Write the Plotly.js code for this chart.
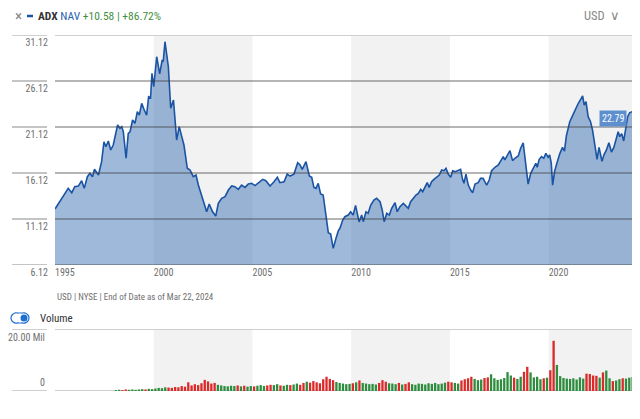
<!DOCTYPE html>
<html>
<head>
<meta charset="utf-8">
<script src="https://cdn.plot.ly/plotly-3.0.1.min.js"></script>
<style>html,body{margin:0;padding:0;background:#fff;}#chart{width:640px;height:419px;}</style>
</head>
<body>
<div id="chart"></div>
<script>
// ---- data ----
const navYears = [1995.0,1995.25,1995.5,1995.67,1995.85,1996.0,1996.18,1996.35,1996.48,1996.64,1996.77,1996.9,1997.0,1997.1,1997.2,1997.36,1997.48,1997.58,1997.7,1997.82,1997.95,1998.17,1998.29,1998.38,1998.46,1998.6,1998.71,1998.8,1998.93,1999.05,1999.17,1999.27,1999.39,1999.52,1999.64,1999.74,1999.84,1999.91,2000.0,2000.15,2000.3,2000.43,2000.48,2000.57,2000.74,2000.86,2001.0,2001.16,2001.29,2001.42,2001.53,2001.7,2001.84,2002.0,2002.14,2002.26,2002.43,2002.56,2002.68,2002.81,2002.98,2003.14,2003.27,2003.44,2003.61,2003.78,2003.95,2004.11,2004.28,2004.45,2004.62,2004.79,2004.96,2005.13,2005.29,2005.52,2005.68,2005.89,2006.09,2006.26,2006.39,2006.6,2006.76,2006.9,2007.1,2007.29,2007.41,2007.52,2007.71,2007.88,2008.0,2008.11,2008.22,2008.33,2008.45,2008.58,2008.72,2008.84,2008.96,2009.09,2009.23,2009.35,2009.43,2009.57,2009.68,2009.85,2009.97,2010.1,2010.22,2010.3,2010.4,2010.53,2010.61,2010.75,2010.86,2010.99,2011.15,2011.29,2011.46,2011.57,2011.67,2011.8,2011.93,2012.05,2012.22,2012.33,2012.47,2012.64,2012.77,2012.89,2013.01,2013.14,2013.28,2013.4,2013.52,2013.62,2013.73,2013.85,2013.95,2014.07,2014.19,2014.32,2014.46,2014.58,2014.7,2014.8,2014.91,2015.04,2015.14,2015.27,2015.42,2015.54,2015.64,2015.71,2015.81,2015.93,2016.05,2016.15,2016.27,2016.43,2016.55,2016.68,2016.86,2016.99,2017.11,2017.28,2017.45,2017.57,2017.7,2017.78,2017.9,2018.04,2018.17,2018.29,2018.46,2018.58,2018.71,2018.85,2018.96,2019.09,2019.22,2019.35,2019.42,2019.52,2019.64,2019.75,2019.86,2019.97,2020.05,2020.13,2020.2,2020.3,2020.42,2020.56,2020.7,2020.8,2020.9,2021.0,2021.07,2021.2,2021.33,2021.5,2021.62,2021.72,2021.8,2021.89,2022.0,2022.12,2022.22,2022.32,2022.45,2022.55,2022.7,2022.8,2022.92,2023.05,2023.18,2023.3,2023.45,2023.52,2023.6,2023.7,2023.8,2023.88,2023.95,2024.0,2024.1,2024.22];
const navValues = [12.2,13.0,13.9,14.45,13.98,14.63,14.7,15.28,14.45,15.72,16.09,15.72,16.52,16.26,15.9,17.35,19.52,18.98,19.6,18.62,19.16,21.34,20.98,21.16,20.6,17.72,20.43,20.6,21.88,21.52,22.78,22.42,23.69,22.97,22.42,24.41,24.3,26.96,25.5,28.76,26.9,28.4,28.22,30.39,27.67,23.15,24.05,19.7,21.16,20.07,19.16,16.63,16.45,15.72,15.9,14.81,13.73,12.82,11.91,12.75,11.91,11.44,12.82,13.37,13.55,14.27,14.71,14.63,14.35,14.81,14.56,14.92,15.0,14.75,15.0,15.43,15.28,14.71,15.17,15.65,15.07,15.17,16.0,15.79,16.0,17.24,16.99,16.52,17.35,15.79,15.65,14.56,14.45,15.0,13.84,13.73,11.55,9.63,9.49,7.93,9.02,9.85,10.11,11.01,11.37,11.55,11.91,11.55,12.6,11.91,10.8,11.55,10.83,11.91,11.74,12.64,13.18,13.37,13.0,12.1,10.83,11.74,11.55,12.28,12.89,11.91,12.46,12.82,12.53,12.28,13.0,13.37,13.73,13.91,14.35,14.09,14.63,15.07,14.56,15.17,15.43,15.65,15.9,16.45,16.37,16.63,16.0,15.65,16.37,16.26,16.45,16.52,15.43,15.0,16.0,14.81,14.27,13.98,14.92,15.07,15.54,15.54,14.81,15.36,16.37,16.74,16.99,17.46,17.9,17.54,18.08,18.55,17.46,17.72,17.97,18.8,19.41,16.81,14.92,16.09,16.63,17.17,16.74,17.61,17.9,17.72,18.26,17.83,18.08,17.2,14.8,16.3,17.2,18.2,18.9,18.5,20.2,21.3,21.7,22.3,23.0,23.7,24.13,24.49,23.5,23.87,22.24,21.7,20.8,19.6,17.6,18.9,17.4,18.1,18.6,19.4,18.4,18.9,20.0,20.6,20.07,20.4,19.6,20.8,21.5,22.24,22.67,22.79];

// volume (millions), one bar every two months starting Jan 1998
const volStartYear = 1998;
const volPerYear = 6;
const volumeMil = [
0.3,0.4,0.3,0.5,0.4,0.5,
0.4,0.5,0.6,0.5,0.7,0.6,
0.8,1.0,0.9,1.2,1.1,1.0,
1.3,1.2,1.6,1.4,2.8,1.8,
2.2,1.9,2.5,3.6,3.1,2.4,
2.6,2.0,1.8,1.6,1.5,1.7,
1.6,1.8,1.5,1.7,1.4,1.6,
1.5,1.7,1.9,1.6,1.8,2.0,
1.9,2.2,1.8,1.7,2.0,1.9,
2.1,2.4,2.0,2.6,3.0,2.7,
3.2,2.8,2.5,3.8,4.6,3.9,
3.5,2.9,2.6,2.4,2.2,2.3,
2.5,2.8,3.4,2.6,2.4,2.2,
2.3,2.1,2.6,3.5,3.0,2.5,
2.4,2.2,2.6,2.1,2.3,2.8,
2.2,2.0,2.4,2.3,2.1,2.5,
2.3,2.6,2.2,2.4,2.7,3.0,
2.8,2.6,2.4,3.4,3.8,4.1,
4.6,3.9,3.5,3.7,4.2,4.4,
5.4,4.1,3.6,3.8,4.2,6.1,
5.0,4.3,3.9,4.6,6.2,7.8,
6.0,4.4,4.6,3.8,4.1,4.3,
6.7,16.2,8.4,4.8,4.2,4.0,
3.9,4.1,3.7,4.4,4.0,5.6,
5.5,5.0,4.9,4.3,6.0,6.6,
4.1,3.2,3.4,3.8,4.1,4.0,
4.3,4.5];

const yTicks = [6.12,11.12,16.12,21.12,26.12,31.12];
const yTickText = ['6.12','11.12','16.12','21.12','26.12','31.12'];
const xTicks = [1995,2000,2005,2010,2015,2020];
const xTickText = ['1995','2000','2005','2010','2015','2020'];
const bands = [[2000,2005],[2010,2015],[2020,2024.22]];
const lastLabel = '22.79';

// ---- helpers ----
function navAt(t){
  if(t<=navYears[0]) return navValues[0];
  for(let i=1;i<navYears.length;i++){
    if(t<=navYears[i]){
      const f=(t-navYears[i-1])/(navYears[i]-navYears[i-1]);
      return navValues[i-1]+f*(navValues[i]-navValues[i-1]);
    }
  }
  return navValues[navValues.length-1];
}
const volX = volumeMil.map((v,i)=>volStartYear+(i+0.5)/volPerYear);
const volColors = volX.map(t=>navAt(t)>=navAt(t-1/volPerYear)?'rgb(46,140,62)':'rgb(218,42,42)');

const FONT = 'Liberation Sans Narrow, Roboto Condensed, Roboto, Arial Narrow, sans-serif';
const W=640,H=419,L=55,R=632,T=35,B=391;
const PX=p=>(p-L)/(R-L);
const PY=p=>(B-p)/(B-T);
const priceDom=[PY(265),1];
const volDom=[0,PY(329)];

const traces=[
 {type:'scatter',mode:'lines',x:navYears,y:navValues,xaxis:'x',yaxis:'y',
  line:{color:'#1b54a4',width:1.6},fill:'tozeroy',fillcolor:'rgba(40,100,170,0.45)',hoverinfo:'skip'},
 {type:'bar',x:volX,y:volumeMil,xaxis:'x2',yaxis:'y2',width:0.7/volPerYear,
  marker:{color:volColors,line:{width:0}},hoverinfo:'skip'}
];

const shapes=[];
bands.forEach(b=>{
  shapes.push({type:'rect',xref:'x',yref:'y domain',x0:b[0],x1:b[1],y0:0,y1:1,fillcolor:'#f2f2f2',line:{width:0},layer:'below'});
  shapes.push({type:'rect',xref:'x2',yref:'y2 domain',x0:b[0],x1:b[1],y0:0,y1:1,fillcolor:'#f2f2f2',line:{width:0},layer:'below'});
});
// gridlines (drawn above fill) and left-side short rules
yTicks.forEach((v,i)=>{
  const top = i===yTicks.length-1;
  const col = top ? '#cfcfcf' : 'rgba(60,60,60,0.5)';
  shapes.push({type:'line',xref:'paper',yref:'y',x0:0,x1:1,y0:v,y1:v,line:{color:col,width:top?2:1.3},layer:'above'});
  shapes.push({type:'line',xref:'paper',yref:'y',x0:PX(12),x1:PX(47),y0:v,y1:v,line:{color:top?'#cfcfcf':'#b0b0b0',width:top?2:1.3},layer:'above'});
});
// volume panel rules
[0,20].forEach(v=>{
  shapes.push({type:'line',xref:'paper',yref:'y2',x0:0,x1:1,y0:v,y1:v,line:{color:'#cfcfcf',width:2},layer:'below'});
  shapes.push({type:'line',xref:'paper',yref:'y2',x0:PX(12),x1:PX(47),y0:v,y1:v,line:{color:'#cfcfcf',width:2},layer:'below'});
});
// header blue dash
shapes.push({type:'line',xref:'paper',yref:'paper',x0:PX(27),x1:PX(33),y0:PY(16),y1:PY(16),line:{color:'#1b54a4',width:2.5}});
// toggle switch
const ty0=PY(323),ty1=PY(313);
shapes.push({type:'rect',xref:'paper',yref:'paper',x0:PX(15),x1:PX(25),y0:ty0,y1:ty1,fillcolor:'#fff',line:{color:'#1f6fd0',width:1.2}});
shapes.push({type:'circle',xref:'paper',yref:'paper',x0:PX(11),x1:PX(21),y0:ty0,y1:ty1,fillcolor:'#fff',line:{color:'#1f6fd0',width:1.2}});
shapes.push({type:'circle',xref:'paper',yref:'paper',x0:PX(19),x1:PX(29),y0:ty0,y1:ty1,fillcolor:'#fff',line:{color:'#1f6fd0',width:1.2}});
shapes.push({type:'rect',xref:'paper',yref:'paper',x0:PX(15.5),x1:PX(24),y0:PY(322.3),y1:PY(313.7),fillcolor:'#fff',line:{width:0}});
shapes.push({type:'circle',xref:'paper',yref:'paper',x0:PX(20.5),x1:PX(27.5),y0:PY(321.5),y1:PY(314.5),fillcolor:'#1f6fd0',line:{width:0}});

const grey='#707070';
const annotations=[
 {xref:'paper',yref:'paper',x:PX(13),y:PY(16),xanchor:'left',yanchor:'middle',showarrow:false,text:'×',font:{family:FONT,size:15,color:'#888'}},
 {xref:'paper',yref:'paper',x:PX(36),y:PY(16),xanchor:'left',yanchor:'middle',showarrow:false,
  text:'<b>ADX</b> <span style="color:#2a62b0">NAV</span> <span style="color:#3f8f3f">+10.58 | +86.72%</span>',font:{family:FONT,size:11.5,color:'#333'}},
 {xref:'paper',yref:'paper',x:PX(622),y:PY(16),xanchor:'right',yanchor:'middle',showarrow:false,text:'USD  ∨',font:{family:FONT,size:12.5,color:'#888'}},
 {xref:'paper',yref:'paper',x:0,y:PY(297),xanchor:'left',yanchor:'middle',showarrow:false,text:'USD | NYSE | End of Date as of Mar 22, 2024',font:{family:FONT,size:9,color:grey}},
 {xref:'paper',yref:'paper',x:PX(38),y:PY(318),xanchor:'left',yanchor:'middle',showarrow:false,text:'Volume',font:{family:FONT,size:11,color:'#333'}},
 {xref:'paper',yref:'y2',x:PX(47),y:20,xanchor:'right',yanchor:'top',yshift:-1,showarrow:false,text:'20.00 Mil',font:{family:FONT,size:10,color:grey}},
 {xref:'paper',yref:'y2',x:PX(47),y:0,xanchor:'right',yanchor:'bottom',yshift:1,showarrow:false,text:'0',font:{family:FONT,size:10,color:grey}},
 {xref:'x',yref:'y',x:navYears[navYears.length-1],y:navValues[navValues.length-1],xanchor:'right',yanchor:'middle',xshift:-5,yshift:-7,showarrow:false,
  text:lastLabel,bgcolor:'#5d8fcf',borderpad:2,font:{family:FONT,size:10,color:'#fff'}}
];

const layout={
 width:W,height:H,margin:{l:L,r:W-R,t:T,b:H-B},
 paper_bgcolor:'#fff',plot_bgcolor:'rgba(0,0,0,0)',showlegend:false,
 font:{family:FONT,size:10,color:grey},
 xaxis:{domain:[0,1],anchor:'y',range:[1995,2024.22],tickvals:xTicks,ticktext:xTickText,ticks:'',
   ticklabelposition:'outside right',showgrid:false,zeroline:false,showline:false,tickfont:{size:10,color:grey}},
 yaxis:{domain:priceDom,anchor:'x',range:[6.12,31.12],tickvals:yTicks,ticktext:yTickText,ticks:'',
   ticklabelposition:'outside bottom',showgrid:false,zeroline:false,showline:false,tickfont:{size:10,color:grey},ticklabelstandoff:6},
 xaxis2:{domain:[0,1],anchor:'y2',matches:'x',showticklabels:false,showgrid:false,zeroline:false,ticks:''},
 yaxis2:{domain:volDom,anchor:'x2',range:[0,20],showticklabels:false,showgrid:false,zeroline:false,ticks:''},
 bargap:0.2,shapes:shapes,annotations:annotations
};
Plotly.newPlot('chart',traces,layout,{staticPlot:true,displayModeBar:false});
</script>
</body>
</html>
